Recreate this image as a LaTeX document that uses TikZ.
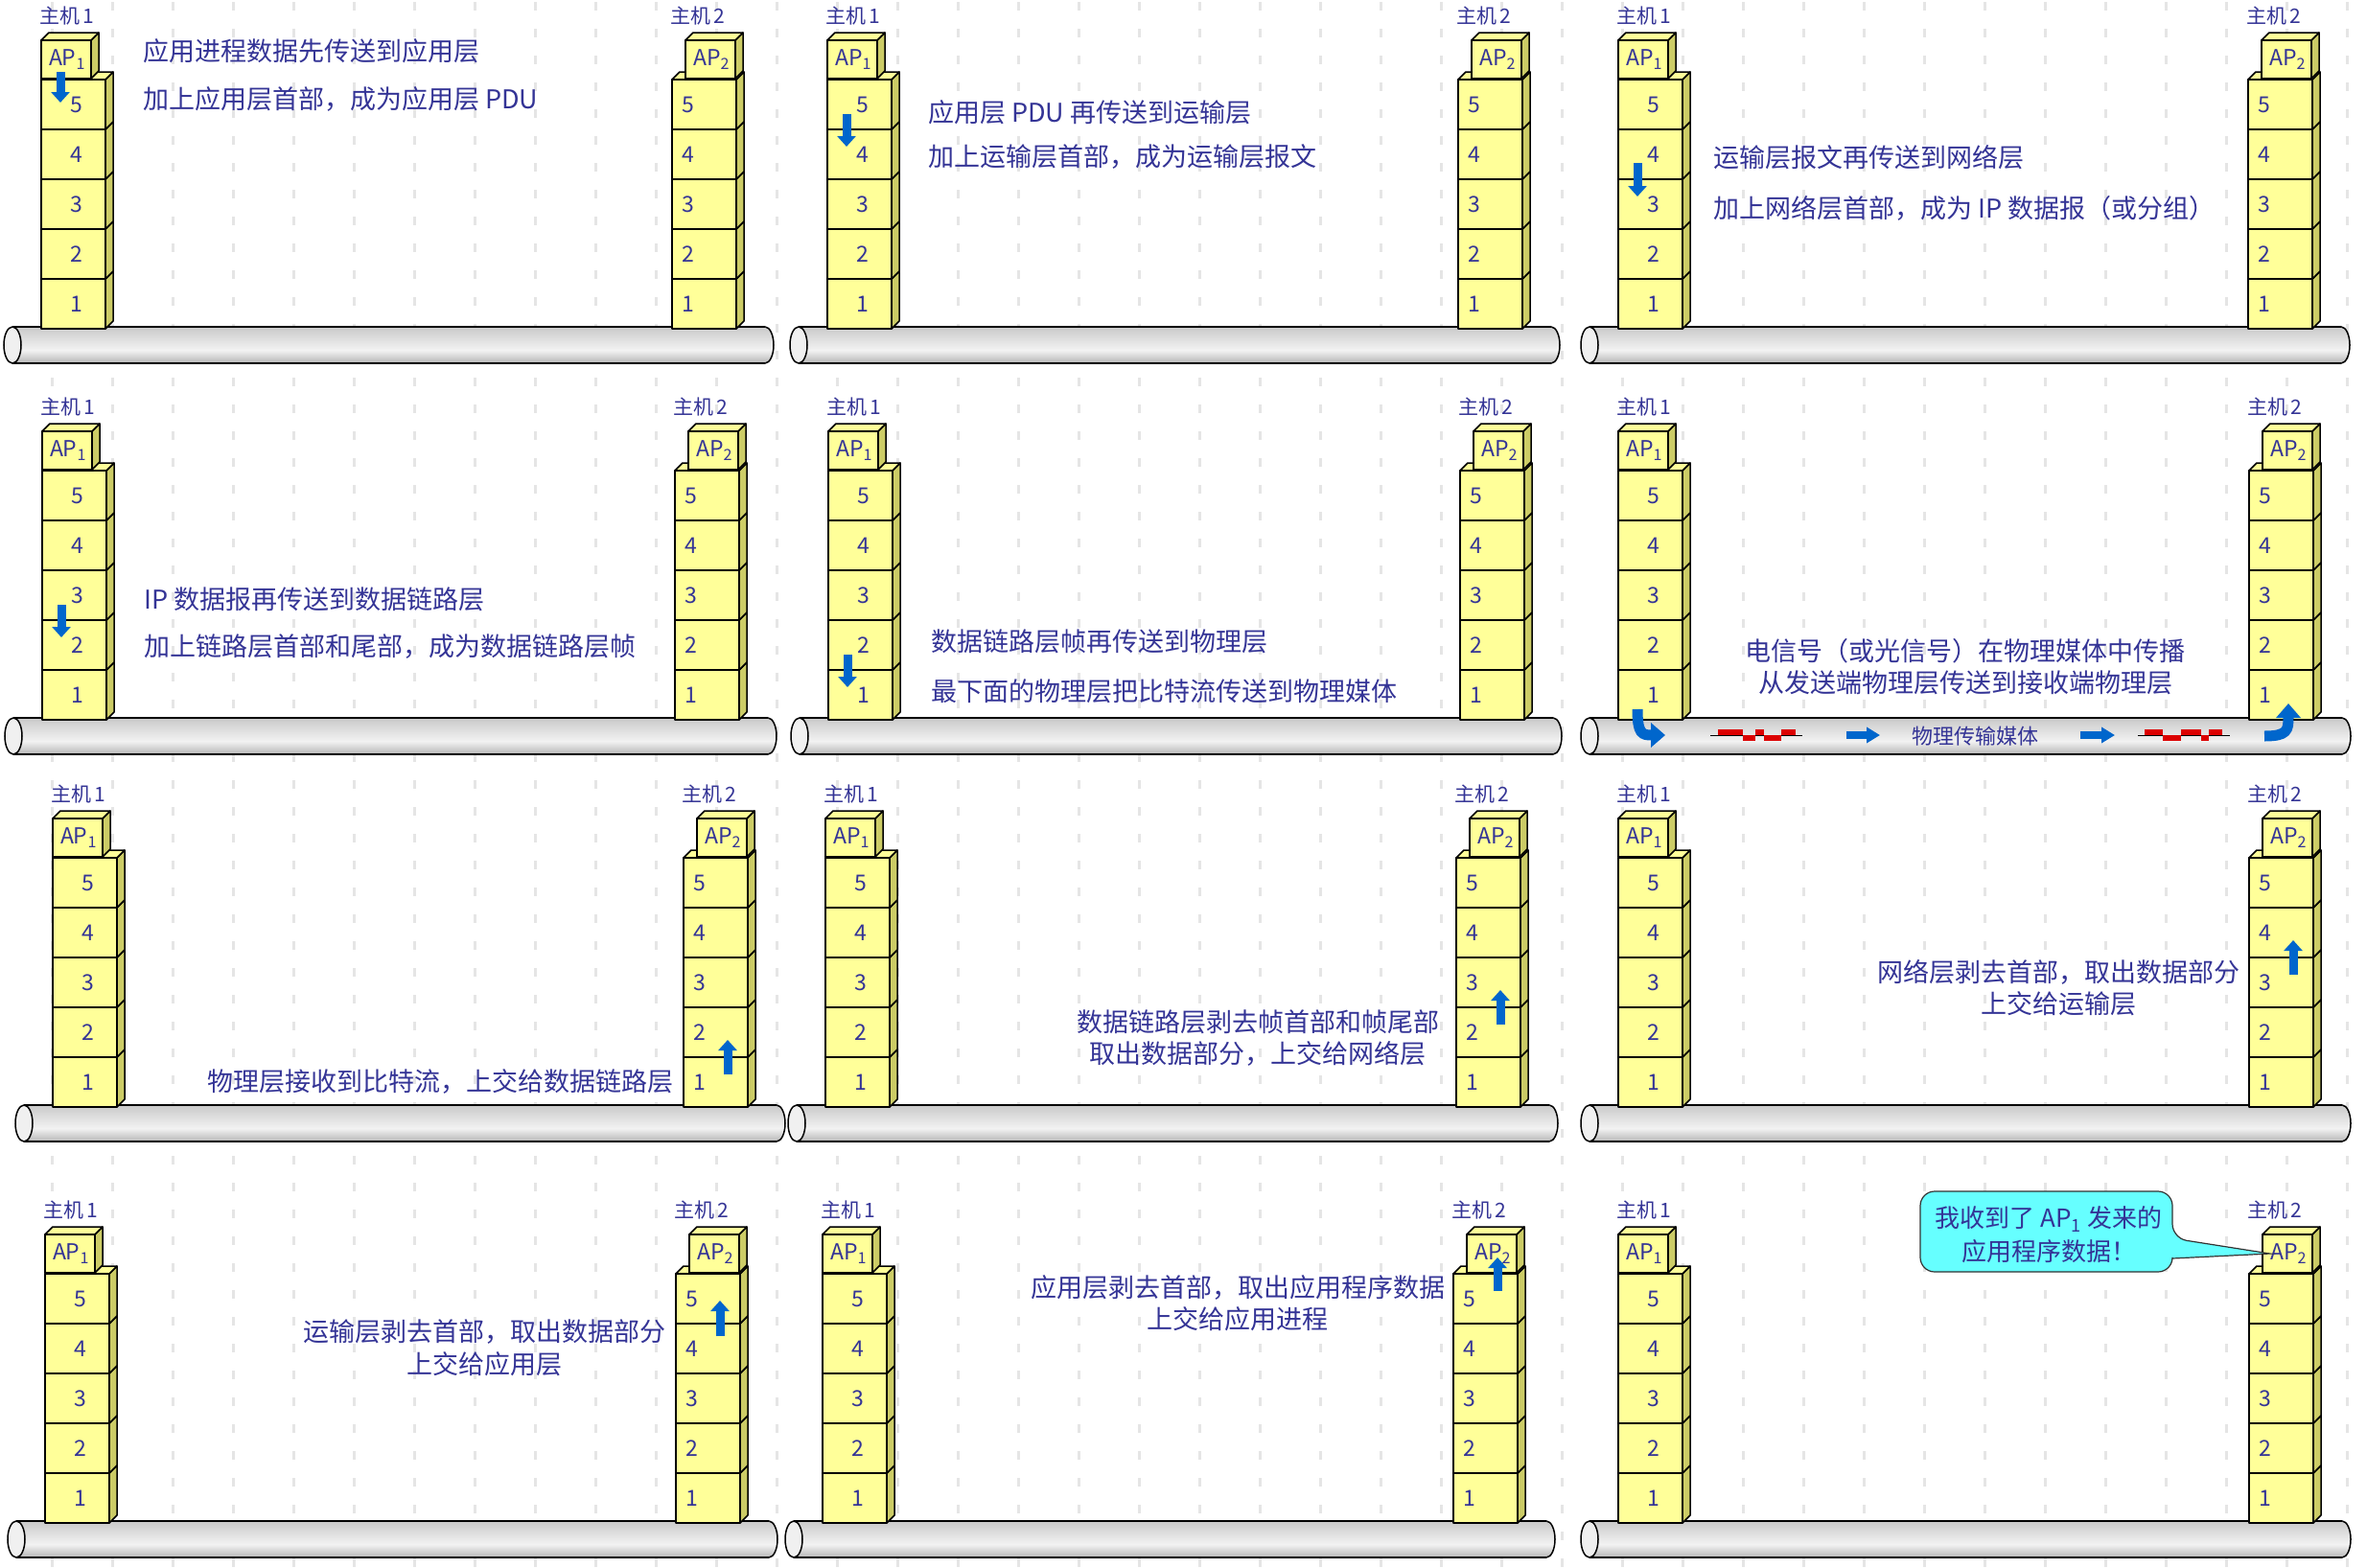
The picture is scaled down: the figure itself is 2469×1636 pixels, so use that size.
\documentclass[tikz,border=0pt]{standalone}
\usepackage{fontspec}
\setmainfont{Noto Sans CJK SC}
\usetikzlibrary{arrows.meta, positioning}

\definecolor{txtblue}{RGB}{52,52,150}
\definecolor{frontyel}{RGB}{255,255,153}
\definecolor{sideyel}{RGB}{204,204,102}
\definecolor{arrblue}{RGB}{0,102,204}
\definecolor{sigred}{RGB}{220,0,0}
\definecolor{bubble}{RGB}{102,255,255}

% light band a little below the middle of the cable
\pgfdeclareverticalshading{cableshade}{100bp}{color(0bp)=(gray!58); color(25bp)=(gray!58);
  color(43bp)=(gray!10); color(75bp)=(gray!42); color(100bp)=(gray!42)}

% one 3D block: left x, top y, width, height
\newcommand{\cubebox}[4]{%
  \filldraw[box, fill=sideyel] ({#1+#3},{#2}) -- ++(8,-8) -- ++(0,#4) -- ++(-8,8) -- cycle;
  \filldraw[box, fill=frontyel] ({#1},{#2}) -- ++(8,-8) -- ++(#3,0) -- ++(-8,8) -- cycle;
  \filldraw[box, fill=frontyel] ({#1},{#2}) rectangle ++(#3,#4);
}

% protocol stack: prefix, host no., left x, base y
\newcommand{\hoststack}[4]{%
  \ifnum#2=1 \def\numdx{37}\def\apdx{0}\else\def\numdx{17}\def\apdx{14}\fi
  \foreach \k in {1,...,5}{
    \cubebox{#3}{#4-52*\k}{67}{52}
    \node[layernum] (#1h#2l\k) at ({#3+\numdx},{#4-52*\k+26}) {\k};
  }
  \cubebox{#3+\apdx}{#4-301}{52}{40}
  \node[layernum] (#1h#2ap) at ({#3+\apdx+27},{#4-281}) {AP\textsubscript{#2}};
  \node[hostlbl] (#1h#2name) at ({#3+27},{#4-326}) {主机\,#2};
}

% cable: left x, right x, top y
\newcommand{\mediapipe}[3]{%
  \shadedraw[shading=cableshade, line width=1.5pt] ({#2-9},{#3+19}) ellipse [x radius=9, y radius=19];
  \shade[shading=cableshade] ({#1+9},{#3}) rectangle ({#2-9},{#3+38});
  \draw[line width=1.5pt] ({#1+9},{#3}) -- ({#2-9},{#3}) ({#1+9},{#3+38}) -- ({#2-9},{#3+38});
  \filldraw[fill=gray!12, line width=1.5pt] ({#1+9},{#3+19}) ellipse [x radius=9, y radius=19];
}

% one slide: prefix, host1 x, host2 x, cable top y
\newcommand{\slidepanel}[4]{%
  \mediapipe{#2-39}{#3+106}{#4}
  \hoststack{#1}{1}{#2}{#4+2}
  \hoststack{#1}{2}{#3}{#4+2}
}

\begin{document}
\begin{tikzpicture}[x=1pt, y=-1pt,
    box/.style={draw=black, line width=1.5pt, line join=round},
    layernum/.style={text=txtblue, font=\fontsize{23pt}{26pt}\selectfont, inner sep=0pt},
    hostlbl/.style={text=txtblue, font=\fontsize{21pt}{24pt}\selectfont, inner sep=0pt},
    lbl/.style={text=txtblue, font=\fontsize{27pt}{32pt}\selectfont, inner sep=0pt},
    medlbl/.style={text=txtblue, font=\fontsize{22pt}{26pt}\selectfont, inner sep=0pt},
    gridline/.style={gray!20, line width=3pt, dash pattern=on 9pt off 19pt},
    vertarr/.style={arrblue, line width=9pt, -{Triangle[length=11pt,width=19pt]}},
    horarr/.style={arrblue, line width=8pt, -{Triangle[length=14pt,width=16pt]}},
    bendarr/.style={arrblue, line width=11pt, -{Triangle[length=15pt,width=25pt]}}]
    \useasboundingbox (0,0) rectangle (2469,1636);
    \fill[white] (0,0) rectangle (2469,1636);

    % background of the slides
    \foreach \gx in {54,117,...,2460}
      \draw[gridline] (\gx,2) -- (\gx,1636);

    % row 1
    \slidepanel{p11}{43}{701}{341}
    \slidepanel{p12}{863}{1521}{341}
    \slidepanel{p13}{1688}{2345}{341}
    % row 2
    \slidepanel{p21}{44}{704}{749}
    \slidepanel{p22}{864}{1523}{749}
    \slidepanel{p23}{1688}{2346}{749}
    % row 3
    \slidepanel{p31}{55}{713}{1153}
    \slidepanel{p32}{861}{1519}{1153}
    \slidepanel{p33}{1688}{2346}{1153}
    % row 4
    \slidepanel{p41}{47}{705}{1587}
    \slidepanel{p42}{858}{1516}{1587}
    \slidepanel{p43}{1688}{2346}{1587}

    % sending side
    \draw[vertarr] (63,75) -- (63,107);
    \node[lbl, anchor=west] (t11a) at (149,53) {应用进程数据先传送到应用层};
    \node[lbl, anchor=west] (t11b) at (149,103) {加上应用层首部，成为应用层 PDU};

    \draw[vertarr] (883,119) -- (883,153);
    \node[lbl, anchor=west] (t12a) at (968,117) {应用层 PDU 再传送到运输层};
    \node[lbl, anchor=west] (t12b) at (968,164) {加上运输层首部，成为运输层报文};

    \draw[vertarr] (1708,170) -- (1708,205);
    \node[lbl, anchor=west] (t13a) at (1787,164) {运输层报文再传送到网络层};
    \node[lbl, anchor=west] (t13b) at (1787,217) {加上网络层首部，成为 IP 数据报（或分组）};

    \draw[vertarr] (64,631) -- (64,665);
    \node[lbl, anchor=west] (t21a) at (150,625) {IP 数据报再传送到数据链路层};
    \node[lbl, anchor=west] (t21b) at (150,675) {加上链路层首部和尾部，成为数据链路层帧};

    \draw[vertarr] (884,683) -- (884,717);
    \node[lbl, anchor=west] (t22a) at (971,669) {数据链路层帧再传送到物理层};
    \node[lbl, anchor=west] (t22b) at (971,721) {最下面的物理层把比特流传送到物理媒体};

    % the medium
    \node[lbl] (t23a) at (2050,679) {电信号（或光信号）在物理媒体中传播};
    \node[lbl] (t23b) at (2050,712) {从发送端物理层传送到接收端物理层};
    \draw[bendarr] (1708,740) .. controls (1708,766) and (1713,767) .. (1737,767);
    \draw[black, line width=1pt] (1784,767) -- (1880,767);
    \foreach \a/\b/\s in {1792/1818/-6, 1818/1831/6, 1831/1840/-6, 1840/1858/6, 1858/1873/-6}
      \fill[sigred] (\a,767) rectangle ({\b},{767+\s});
    \draw[horarr] (1926,767) -- (1961,767);
    \node[medlbl] (t23c) at (2060,768) {物理传输媒体};
    \draw[horarr] (2170,767) -- (2206,767);
    \draw[black, line width=1pt] (2230,767) -- (2326,767);
    \foreach \a/\b/\s in {2237/2256/-6, 2256/2275/6, 2275/2296/-6, 2296/2304/6, 2304/2318/-6}
      \fill[sigred] (\a,767) rectangle ({\b},{767+\s});
    \draw[bendarr] (2362,768) .. controls (2386,768) and (2387,762) .. (2387,734);

    % receiving side
    \draw[vertarr] (759,1121) -- (759,1085);
    \node[lbl] (t31a) at (459,1128) {物理层接收到比特流，上交给数据链路层};

    \draw[vertarr] (1565,1069) -- (1565,1033);
    \node[lbl] (t32a) at (1312,1066) {数据链路层剥去帧首部和帧尾部};
    \node[lbl] (t32b) at (1312,1099) {取出数据部分，上交给网络层};

    \draw[vertarr] (2392,1017) -- (2392,981);
    \node[lbl] (t33a) at (2147,1014) {网络层剥去首部，取出数据部分};
    \node[lbl] (t33b) at (2147,1047) {上交给运输层};

    \draw[vertarr] (751,1394) -- (751,1357);
    \node[lbl] (t41a) at (505,1390) {运输层剥去首部，取出数据部分};
    \node[lbl] (t41b) at (505,1423) {上交给应用层};

    \draw[vertarr] (1562,1347) -- (1562,1312);
    \node[lbl] (t42a) at (1291,1343) {应用层剥去首部，取出应用程序数据};
    \node[lbl] (t42b) at (1291,1376) {上交给应用进程};

    % message of host 2
    \filldraw[fill=bubble, draw=black!80, line width=1.2pt, rounded corners=15pt]
      (2003,1243) -- (2266,1243) -- (2266,1292) [sharp corners] -- (p43h2ap.west)
      -- (2266,1313) [rounded corners=15pt] -- (2266,1327) -- (2003,1327) -- cycle;
    \node[lbl, font=\fontsize{26pt}{30pt}\selectfont] (msga) at (2137,1272) {我收到了 AP\textsubscript{1} 发来的};
    \node[lbl, font=\fontsize{26pt}{30pt}\selectfont] (msgb) at (2137,1306) {应用程序数据！};
  \end{tikzpicture}
\end{document}
